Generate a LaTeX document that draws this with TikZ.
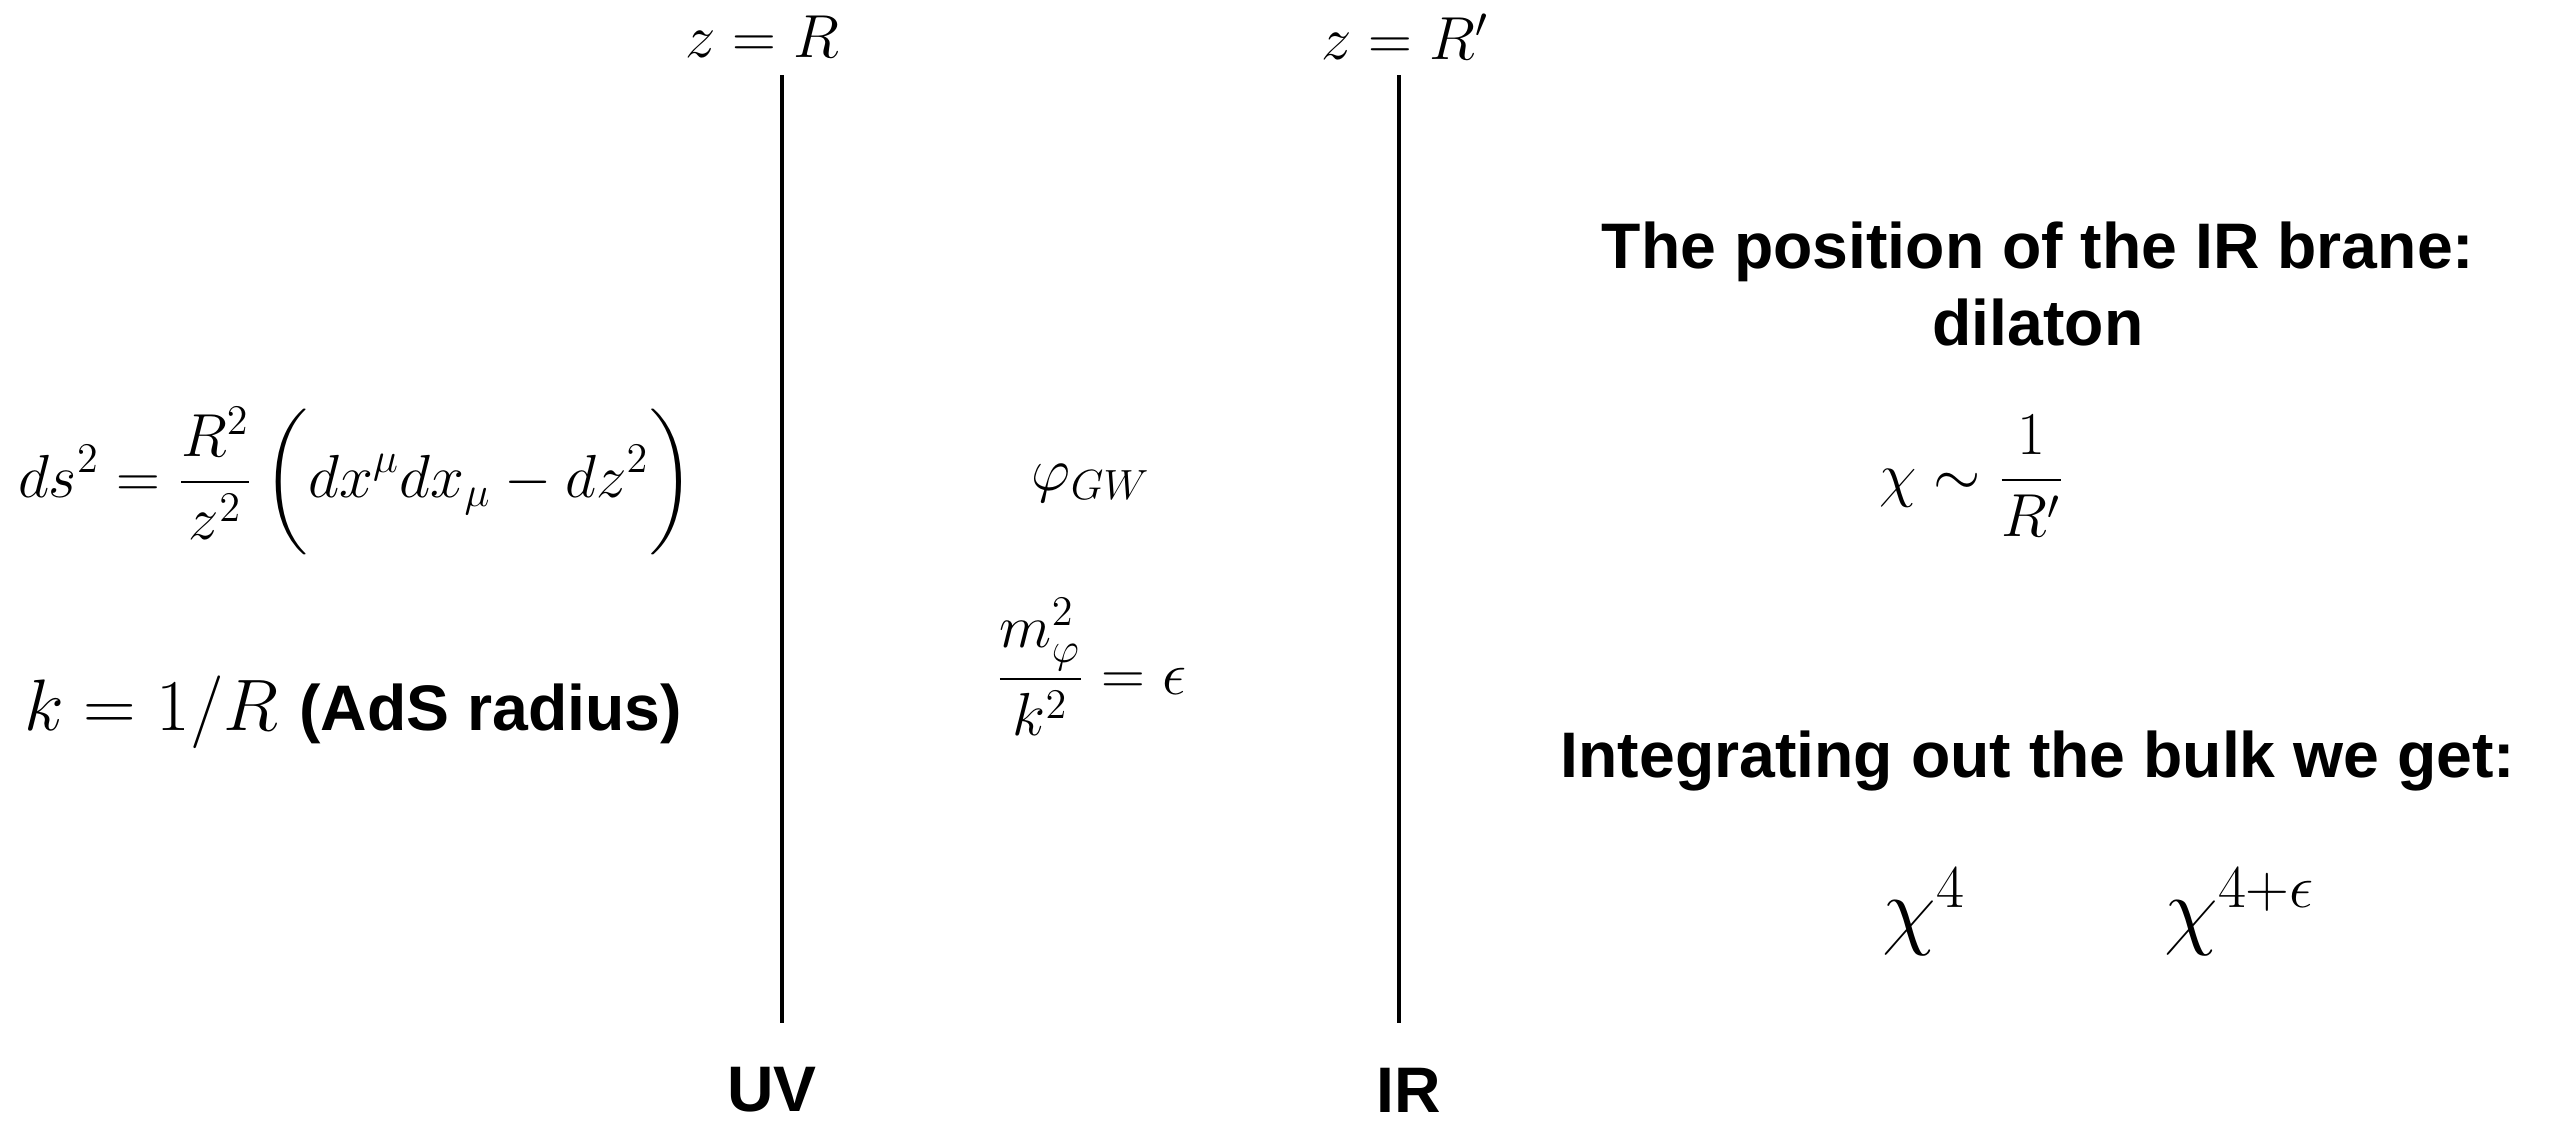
\documentclass[tikz,border=0pt]{standalone}
\usepackage{amsmath}
\usepackage{fontspec}
\newfontfamily\hvfont{Liberation Sans}
\begin{document}
\begin{tikzpicture}[x=0.01cm,y=-0.01cm,
  brane/.style={line width=1.15pt,black},
  mathlbl/.style={font=\fontsize{18.5}{22}\selectfont,inner sep=0pt},
  bigmath/.style={font=\fontsize{26}{30}\selectfont,inner sep=0pt},
  boldlbl/.style={font=\fontsize{18.3}{22}\selectfont\hvfont\bfseries,inner sep=0pt,align=center}]
\useasboundingbox (0,0) rectangle (2550,1121);
% branes
\coordinate (uvtop) at (782,75);
\coordinate (uvbot) at (782,1023);
\coordinate (irtop) at (1399,75);
\coordinate (irbot) at (1399,1023);
\draw[brane] (uvtop) -- (uvbot);
\draw[brane] (irtop) -- (irbot);
% labels
\node[mathlbl] (zR) at (762,37) {$z = R$};
\node[mathlbl] (zRp) at (1405,37) {$z = R'$};
\node[boldlbl] (UV) at (772,1090) {UV};
\node[boldlbl] (IR) at (1409,1090) {IR};
% left
\node[mathlbl] (metric) at (356,481) {$\displaystyle ds^2 = \frac{R^2}{z^2}\,\biggl(dx^\mu dx_\mu - dz^2\biggr)$};
\node[inner sep=0pt] (kR) at (353,712) {\fontsize{19.5}{24}\selectfont$k = 1/R$ {\hvfont\bfseries\fontsize{18.3}{22}\selectfont (AdS radius)}};
% middle
\node[mathlbl] (phi) at (1091,483) {$\varphi_{GW}$};
\node[mathlbl] (mass) at (1091,667) {$\displaystyle \frac{m_\varphi^2}{k^2} = \epsilon$};
% right
\node[boldlbl] (pos) at (2038,284) {The position of the IR brane:\\dilaton};
\node[mathlbl] (chi) at (1972,476) {$\displaystyle \chi \sim \frac{1}{R'}$};
\node[boldlbl] (integ) at (2038,761) {Integrating out the bulk we get:};
\node[bigmath] (chi4) at (1924,912) {$\chi^4$};
\node[bigmath] (chi4e) at (2240,912) {$\chi^{4+\epsilon}$};
\end{tikzpicture}
\end{document}
